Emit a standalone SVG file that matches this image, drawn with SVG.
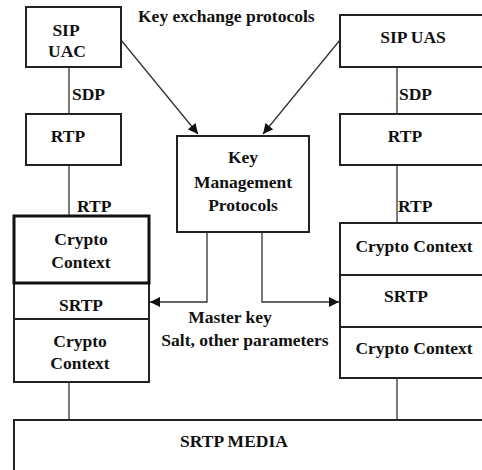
<svg xmlns="http://www.w3.org/2000/svg" width="482" height="470" viewBox="0 0 482 470">
<defs>
<style>
text{font-family:"Liberation Serif","Times New Roman",serif;font-weight:bold;font-size:17.5px;fill:#111}
.c{text-anchor:middle}
.box{fill:#fff;stroke:#222;stroke-width:2}
.thick{fill:#fff;stroke:#111;stroke-width:3}
.ln{fill:none;stroke:#333;stroke-width:1.3}
</style>
<marker id="ah" viewBox="0 0 10 10" refX="10" refY="5" markerWidth="11" markerHeight="10" markerUnits="userSpaceOnUse" orient="auto">
<path d="M0,0 L10,5 L0,10 z" fill="#111"/>
</marker>
</defs>
<rect width="482" height="470" fill="#fff"/>
<g id="connectors">
<line class="ln" x1="69" y1="67" x2="69" y2="114"/>
<line class="ln" x1="69" y1="165" x2="69" y2="216"/>
<line class="ln" x1="69" y1="382" x2="69" y2="420"/>
<line class="ln" x1="397" y1="67" x2="397" y2="114"/>
<line class="ln" x1="397" y1="165" x2="397" y2="223"/>
<line class="ln" x1="397" y1="378" x2="397" y2="420"/>
<line class="ln" x1="121" y1="40" x2="198" y2="134" marker-end="url(#ah)"/>
<line class="ln" x1="340" y1="40" x2="263" y2="134" marker-end="url(#ah)"/>
<polyline class="ln" points="207,232 207,302 150,302" marker-end="url(#ah)"/>
<polyline class="ln" points="262,232 262,302 339,302" marker-end="url(#ah)"/>
<text x="72" y="100">SDP</text>
<text x="77" y="212">RTP</text>
<text x="399" y="100">SDP</text>
<text x="398" y="212">RTP</text>
<text x="138" y="22">Key exchange protocols</text>
<text class="c" x="230" y="323">Master key</text>
<text class="c" x="245" y="346">Salt, other parameters</text>
</g>
<g id="sip-uac">
<rect class="box" x="26" y="7" width="95" height="60"/>
<text class="c" x="66" y="36">SIP</text>
<text class="c" x="67" y="57">UAC</text>
</g>
<g id="rtp-left">
<rect class="box" x="26" y="114" width="95" height="51"/>
<text class="c" x="68" y="142">RTP</text>
</g>
<g id="sip-uas">
<rect class="box" x="340" y="15" width="150" height="52"/>
<text class="c" x="413" y="43">SIP UAS</text>
</g>
<g id="rtp-right">
<rect class="box" x="340" y="114" width="150" height="51"/>
<text class="c" x="405" y="142">RTP</text>
</g>
<g id="key-management">
<rect class="box" x="177" y="136" width="132" height="96"/>
<text class="c" x="243" y="163">Key</text>
<text class="c" x="243" y="188">Management</text>
<text class="c" x="243" y="211">Protocols</text>
</g>
<g id="left-srtp-srtp">
<rect class="box" x="14" y="283" width="135" height="36"/>
<text class="c" x="81" y="311">SRTP</text>
</g>
<g id="left-crypto-bottom">
<rect class="box" x="14" y="319" width="135" height="63"/>
<text class="c" x="80" y="347">Crypto</text>
<text class="c" x="80" y="369">Context</text>
</g>
<g id="left-crypto-top">
<rect class="thick" x="14" y="216" width="135" height="67"/>
<text class="c" x="81" y="245">Crypto</text>
<text class="c" x="81" y="268">Context</text>
</g>
<g id="right-crypto-top">
<rect class="box" x="340" y="223" width="150" height="52"/>
<text class="c" x="414" y="252">Crypto Context</text>
</g>
<g id="right-srtp">
<rect class="box" x="340" y="275" width="150" height="52"/>
<text class="c" x="406" y="302">SRTP</text>
</g>
<g id="right-crypto-bottom">
<rect class="box" x="340" y="327" width="150" height="51"/>
<text class="c" x="414" y="354">Crypto Context</text>
</g>
<g id="srtp-media">
<rect class="box" x="14" y="420" width="480" height="60"/>
<text class="c" x="234" y="447">SRTP MEDIA</text>
</g>
</svg>
